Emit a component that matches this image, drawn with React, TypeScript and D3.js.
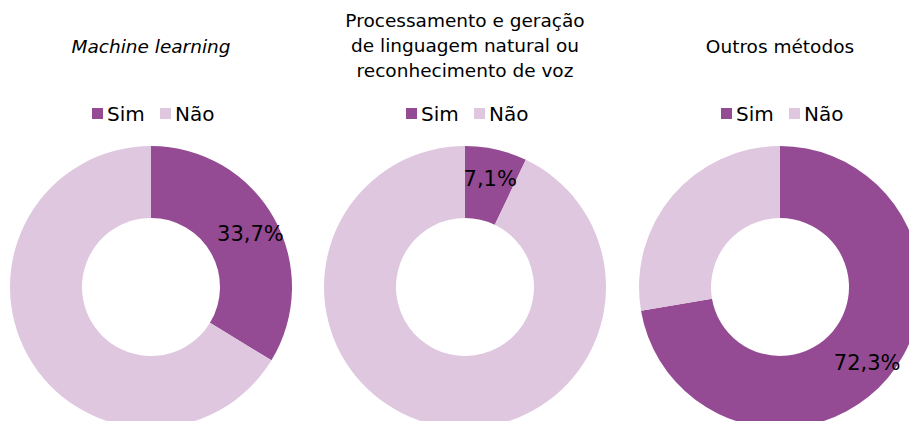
import * as d3 from 'd3'

const titles = [
  ['Machine learning'],
  ['Processamento e geração', 'de linguagem natural ou', 'reconhecimento de voz'],
  ['Outros métodos'],
]
const italicTitle = [true, false, false]
const categories = ['Sim', 'Não']
const simValues = [33.7, 7.1, 72.3]
const naoValues = [66.3, 92.9, 27.7]
const colors = ['#954b94', '#dec7df']

const width = 909
const height = 421
const centersX = [151, 465, 780]
const centerY = 287
const outerR = 141
const innerR = 69
const labelR = 114

const fmt = (v: number) => v.toFixed(1).replace('.', ',') + '%'

function Donut({ i }: { i: number }) {
  const cx = centersX[i]
  const vals = [simValues[i], naoValues[i]]
  const pie = d3.pie<number>().sort(null).value(d => d)
  const arcs = pie(vals)
  const arc = d3.arc<d3.PieArcDatum<number>>().innerRadius(innerR).outerRadius(outerR)
  const labelArc = d3.arc<d3.PieArcDatum<number>>().innerRadius(labelR).outerRadius(labelR)
  const lines = titles[i]
  const titleY = lines.length === 1 ? 48 : 22
  const legendX = cx - 59

  return (
    <g>
      {lines.map((t, k) => (
        <text key={k} x={cx} y={titleY + k * 25} textAnchor="middle" dominantBaseline="middle"
          fontSize={18.5} fontStyle={italicTitle[i] ? 'italic' : 'normal'} fill="#000">{t}</text>
      ))}
      <g transform={`translate(${legendX},114)`}>
        {categories.map((c, k) => (
          <g key={c} transform={`translate(${k * 68},0)`}>
            <rect x={0} y={-6} width={11} height={11} fill={colors[k]} />
            <text x={15} y={1} dominantBaseline="middle" fontSize={20}>{c}</text>
          </g>
        ))}
      </g>
      <g transform={`translate(${cx},${centerY})`}>
        {arcs.map((a, k) => (
          <path key={k} d={arc(a) || ''} fill={colors[k]} />
        ))}
        {(() => {
          const [lx, ly] = labelArc.centroid(arcs[0])
          return <text x={lx} y={ly + 4} textAnchor="middle" dominantBaseline="middle" fontSize={21}>{fmt(simValues[i])}</text>
        })()}
      </g>
    </g>
  )
}

export default function App() {
  return (
    <svg width={width} height={height}
      style={{ position: 'absolute', left: 0, top: 0, background: '#fff', fontFamily: '"DejaVu Sans", Verdana, sans-serif' }}>
      {simValues.map((_, i) => <Donut key={i} i={i} />)}
    </svg>
  )
}
